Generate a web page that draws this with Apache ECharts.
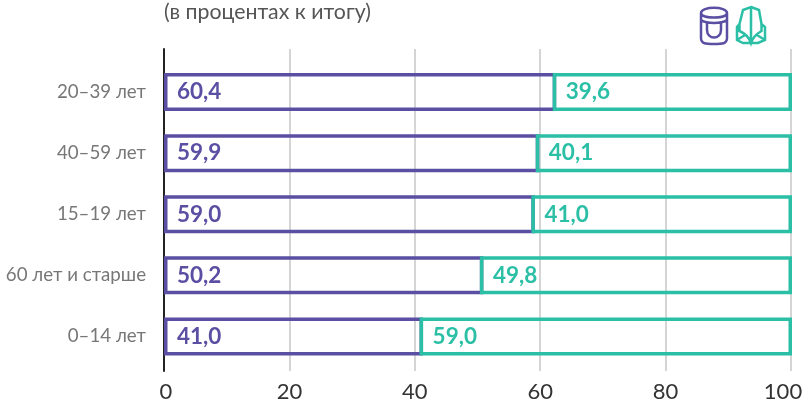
<!DOCTYPE html>
<html>
<head>
<meta charset="utf-8">
<style>
html,body{margin:0;padding:0;background:#fff}
#main{width:803px;height:403px}
</style>
<script src="https://cdn.jsdelivr.net/npm/echarts@6/dist/echarts.min.js"></script>
</head>
<body>
<div id="main"></div>
<script>
var subtitle = '(в процентах к итогу)';
var categories = ['20–39 лет', '40–59 лет', '15–19 лет', '60 лет и старше', '0–14 лет'];
// подписи как в таблице
var firstLabels = [60.4, 59.9, 59.0, 50.2, 41.0];
var secondLabels = [39.6, 40.1, 41.0, 49.8, 59.0];
// длина столбцов как на картинке, она чуть отличается от подписей
var firstBars = [61.9, 59.2, 58.5, 50.3, 40.7];
var secondBars = [38.1, 40.8, 41.5, 49.7, 59.3];
var ticks = [0, 20, 40, 60, 80, 100];

var PURPLE = '#5a4fa2';
var TEAL = '#2bbfa6';
var font = 'Lato, "Open Sans", sans-serif';
var BORDER = 3.5;
var BAR_W = 38;

function comma(v) {
  return v.toFixed(1).replace('.', ',');
}

// значки в правом верхнем углу
echarts.graphic.registerShape('iconFirst', echarts.graphic.extendPath(
  'M1 6 C1 -1 27 -1 27 6 L27 31 C27 37 22 37 14 37 C6 37 1 37 1 31 Z M1 6 C1 12 27 12 27 6 M1 13 C7 17 21 17 27 13 M7 15 L7 23 C7 33 21 33 21 23 L21 15', {}));
echarts.graphic.registerShape('iconSecond', echarts.graphic.extendPath(
  'M15 0 L23 3 L25.5 17 L29 20 L29 33 L22 36 L7 36 L1 33 L1 20 L3.5 17 L7 3 Z M15 0 L15 36 M3.5 17 L3.5 24 C8 26 13 30 15 36 C17 30 22 26 25.5 24 L25.5 17 M1 33 L9 28 M29 33 L21 28', {}));

var myChart = echarts.init(document.getElementById('main'));

var barLabel = function (labels, color) {
  return {
    show: true,
    position: 'insideLeft',
    distance: 13,
    color: color,
    fontFamily: font,
    fontWeight: 'bold',
    fontSize: 22.5,
    formatter: function (p) { return comma(labels[p.dataIndex]); }
  };
};

var tickStyle = {color: '#333', fontFamily: font, fontSize: 22};

var option = {
  animation: false,
  title: {
    text: subtitle,
    left: 159,
    top: -3,
    textStyle: {color: '#555', fontFamily: font, fontWeight: 'normal', fontSize: 21.3}
  },
  grid: [
    {left: 164, right: 11, top: 61.5, height: 305.5, outerBoundsMode: 'none'},
    {left: 164, right: 12, top: 49, height: 322, outerBoundsMode: 'none'}
  ],
  xAxis: [
    {type: 'value', gridIndex: 0, min: 0, max: 100, show: false},
    {
      type: 'value', gridIndex: 1, min: 0, max: 100, interval: 20,
      axisLine: {show: false},
      axisTick: {show: false},
      axisLabel: {
        color: '#333', fontFamily: font, fontSize: 22, margin: 10,
        formatter: function (v) {
          if (v === ticks[0]) return '{first|' + v + '}';
          // 100 в оригинале сдвинута влево, чтобы влезть в картинку
          if (v === ticks[ticks.length - 1]) return '{last|' + v + '}';
          return String(v);
        },
        rich: {
          first: Object.assign({padding: [0, 0, 0, 4]}, tickStyle),
          last: Object.assign({padding: [0, 16, 0, 0]}, tickStyle)
        }
      },
      splitLine: {show: true, lineStyle: {color: '#d5d5d5', width: 2}}
    }
  ],
  yAxis: [
    {
      type: 'category', gridIndex: 0, inverse: true, data: categories,
      axisLine: {show: false},
      axisTick: {show: false},
      axisLabel: {color: '#777', fontFamily: font, fontSize: 18.7, margin: 18}
    },
    {
      type: 'category', gridIndex: 1, data: [''],
      axisLine: {show: true, lineStyle: {color: '#222', width: 2}},
      axisTick: {show: false},
      axisLabel: {show: false}
    }
  ],
  series: [
    {
      // фиолетовый заходит под левую границу зелёного
      type: 'bar', stack: 'first', barWidth: BAR_W, barGap: '-100%', silent: true, z: 2,
      data: firstBars.map(function (v) { return v + 0.55; }),
      itemStyle: {color: 'transparent', borderColor: PURPLE, borderWidth: BORDER},
      label: barLabel(firstLabels, PURPLE)
    },
    {
      type: 'bar', stack: 'second', barWidth: BAR_W, barGap: '-100%', silent: true,
      data: firstBars,
      itemStyle: {color: 'transparent'}
    },
    {
      type: 'bar', stack: 'second', barWidth: BAR_W, barGap: '-100%', silent: true, z: 3,
      data: secondBars,
      itemStyle: {color: 'transparent', borderColor: TEAL, borderWidth: BORDER},
      label: barLabel(secondLabels, TEAL)
    }
  ],
  graphic: [
    {type: 'iconFirst', x: 700, y: 7, shape: {}, style: {fill: null, stroke: PURPLE, lineWidth: 2.5}},
    {type: 'iconSecond', x: 736, y: 7, shape: {}, style: {fill: null, stroke: TEAL, lineWidth: 2.5}}
  ]
};

myChart.setOption(option);
</script>
</body>
</html>
